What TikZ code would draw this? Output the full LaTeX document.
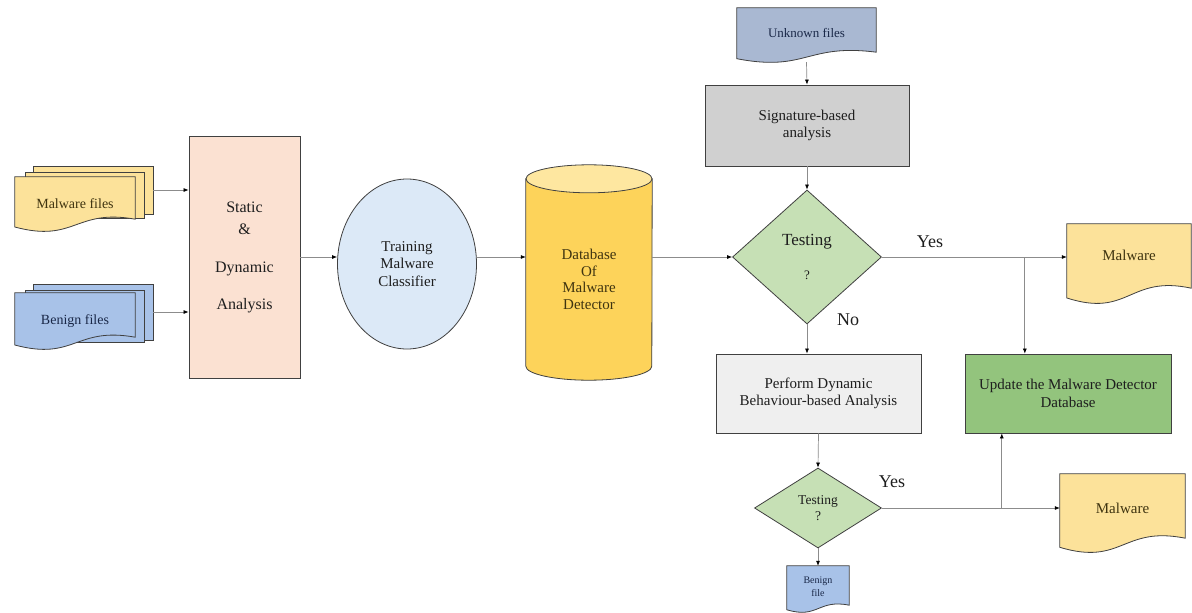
\documentclass[tikz,border=0pt]{standalone}
\usepackage{fontspec}
\setmainfont{Liberation Serif}
\newfontfamily\serifx{Liberation Serif}
\usetikzlibrary{shapes.geometric,arrows.meta,calc}
\definecolor{malyellow}{HTML}{FCE29A}
\definecolor{benblue}{HTML}{A8C2E8}
\definecolor{peach}{HTML}{FBE1D2}
\definecolor{ellblue}{HTML}{DCE9F7}
\definecolor{cylbody}{HTML}{FDD35A}
\definecolor{cyltop}{HTML}{FEE7A0}
\definecolor{unkblue}{HTML}{A9B8D2}
\definecolor{siggray}{HTML}{D0D0D0}
\definecolor{diagreen}{HTML}{C6E0B5}
\definecolor{perfgray}{HTML}{EFEFEF}
\definecolor{updgreen}{HTML}{93C47D}
\definecolor{bordc}{HTML}{404040}
\definecolor{linec}{HTML}{8C8C8C}
\definecolor{txt}{HTML}{1E1E1E}
\definecolor{maltxt}{HTML}{3F3410}
\definecolor{bentxt}{HTML}{1A2848}
\newcommand\docwave[3]{%
  \path[draw=bordc, line width=0.8pt, fill=#2]
    (#1.north west) -- (#1.north east) -- ($(#1.south east)+(0,-#3)$)
    .. controls ($(#1.south)+(0,-1.9*#3)$) and ($(#1.south)+(0,#3)$) ..
    ($(#1.south west)+(0,-0.35*#3)$) -- cycle;}
\newcommand\fs[2]{\serifx\fontsize{#1}{#2}\selectfont}
\tikzset{
  x=1pt, y=-1pt,
  box/.style={draw=bordc, line width=0.8pt, align=center, text=txt, inner sep=0pt,
    font=\fs{15}{17}},
  area/.style={rectangle, inner sep=0pt, align=center, text=txt, font=\fs{15}{17}},
  sheet/.style={draw=bordc, line width=0.8pt},
  conn/.style={draw=linec, line width=0.7pt, -{Latex[length=5pt,width=4pt,color=black]}},
  lbl/.style={font=\fs{18}{20}, text=txt},
  dia/.style={diamond, draw=bordc, line width=0.8pt, fill=diagreen, inner sep=0pt, align=center, text=txt}
}
\begin{document}
\begin{tikzpicture}
\useasboundingbox[fill=white] (0,0) rectangle (1192,613);

% ---- Malware files stack
\node[sheet, fill=malyellow, minimum width=120, minimum height=48] (mal3) at (93,190) {};
\node[sheet, fill=malyellow, minimum width=119, minimum height=46] (mal2) at (84.5,195) {};
\node[area, minimum width=120, minimum height=54] (mal) at (75,204) {};
\docwave{mal}{malyellow}{12}
\node[text=maltxt, font=\fs{14}{16}] at (mal.center) {Malware files};

% ---- Benign files stack
\node[sheet, fill=benblue, minimum width=120, minimum height=56] (ben3) at (93,312) {};
\node[sheet, fill=benblue, minimum width=119, minimum height=52] (ben2) at (84.5,316) {};
\node[area, minimum width=120, minimum height=56] (ben) at (75,321) {};
\docwave{ben}{benblue}{12}
\node[text=bentxt, font=\fs{14}{16}] at (ben.center) {Benign files};

% ---- Static & Dynamic
\node[box, fill=peach, minimum width=111, minimum height=242, font=\fs{16}{20}]
  (static) at (244.5,257) {Static\\[2pt]\&\\[18pt]Dynamic\\[17pt]Analysis};

% ---- Training classifier
\node[ellipse, draw=bordc, line width=0.8pt, fill=ellblue, minimum width=139, minimum height=170,
  inner sep=0pt, align=center, text=txt, font=\fs{15}{17.5}]
  (ell) at (407,264) {Training\\Malware\\Classifier};

% ---- Database cylinder
\node[area, minimum width=126, minimum height=201] (cyl) at (589,279.5) {};
\path[draw=bordc, line width=0.8pt, fill=cylbody] (cyl.north west) -- ($(cyl.south west)+(0,-14)$)
  arc[start angle=180, end angle=360, x radius=63pt, y radius=14pt] -- (cyl.north east) -- cycle;
\path[draw=bordc, line width=0.8pt, fill=cyltop] (cyl.north) ellipse[x radius=63pt, y radius=14pt];
\node[align=center, text=maltxt, font=\fs{15}{16.7}] at (cyl.center) {Database\\Of\\Malware\\Detector};

% ---- Unknown files
\node[area, minimum width=139, minimum height=54] (unk) at (806.5,35) {};
\docwave{unk}{unkblue}{10}
\node[text=bentxt, font=\fs{13}{15}] at ($(unk.center)+(0,-2)$) {Unknown files};

% ---- Signature-based analysis
\node[box, fill=siggray, minimum width=204, minimum height=81] (sig) at (807,125.5) {Signature-based\\analysis};

% ---- Testing 1
\node[dia, minimum width=149, minimum height=134, font=\fs{17}{20}]
  (d1) at (807,257) {Testing\\[14pt]{\fs{13}{15}?}};

% ---- Malware (top)
\node[area, minimum width=124, minimum height=79] (mal1) at (1129,263.5) {};
\docwave{mal1}{malyellow}{15}
\node[text=maltxt, font=\fs{15}{17}] at ($(mal1.center)+(0,-8)$) {Malware};

% ---- Perform dynamic
\node[box, fill=perfgray, minimum width=205, minimum height=79, font=\fs{15}{16.5}]
  (perf) at (818.5,393.5) {Perform Dynamic\\Behaviour-based Analysis};

% ---- Update DB
\node[box, fill=updgreen, minimum width=206, minimum height=79, font=\fs{15}{17.5}]
  (upd) at (1068,393.5) {Update the Malware Detector\\Database};

% ---- Testing 2
\node[dia, minimum width=127, minimum height=80, font=\fs{13.5}{16}]
  (d2) at (818,508) {Testing\\?};

% ---- Malware (bottom)
\node[area, minimum width=125, minimum height=78] (malb) at (1122.5,513) {};
\docwave{malb}{malyellow}{14}
\node[text=maltxt, font=\fs{15}{17}] at ($(malb.center)+(0,-5)$) {Malware};

% ---- Benign file
\node[area, minimum width=62, minimum height=46] (bf) at (818,589) {};
\docwave{bf}{benblue}{7}
\node[align=center, text=bentxt, font=\fs{10}{13}] at ($(bf.center)+(0,-2.5)$) {Benign\\file};

% ---- Connectors
\draw[conn] (mal3.east) -- (static.west |- mal3.east);
\draw[conn] (ben3.east) -- (static.west |- ben3.east);
\draw[conn] (static.east) -- (ell.west |- static.east);
\draw[conn] (ell.east |- static.east) -- (cyl.west |- static.east);
\draw[conn] (cyl.east |- d1.west) -- (d1.west);
\draw[conn] (unk.south) -- (sig.north);
\draw[conn] (sig.south) -- (d1.north);
\draw[conn] (d1.east) -- (mal1.west |- d1.east) coordinate[pos=0.773] (br1);
\draw[conn] (br1) -- (br1 |- upd.north);
\draw[conn] (d1.south) -- (d1.south |- perf.north);
\draw[conn] (perf.south) -- (d2.north);
\draw[conn] (d2.east) -- (malb.west |- d2.east) coordinate[pos=0.674] (br2);
\draw[conn] (br2) -- (br2 |- upd.south);
\draw[conn] (d2.south) -- (bf.north);

% ---- Labels
\node[lbl] (yes1) at (930,242) {Yes};
\node[lbl] (no1) at (848,320) {No};
\node[lbl] (yes2) at (892,482) {Yes};
\end{tikzpicture}
\end{document}
